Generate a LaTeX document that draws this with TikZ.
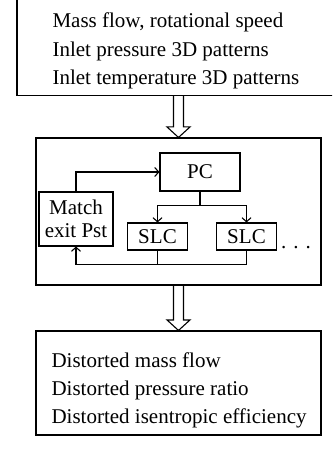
\documentclass[tikz,border=0pt]{standalone}
\usepackage{fontspec}
\setmainfont{Liberation Serif}
\usetikzlibrary{arrows.meta,calc}

\begin{document}
\begin{tikzpicture}[x=1pt,y=-1pt,>={Straight Barb[length=4pt,width=9pt]},
  line width=1.1pt,
  every node/.style={font=\fontsize{21}{28.5}\selectfont},
  frame/.style={draw,rectangle,inner sep=0pt},
  block/.style={draw,rectangle,inner sep=0pt,minimum height=27pt},
  list/.style={anchor=base west,align=left,inner sep=0pt},
  hollow/.style={line width=1.1pt,line join=miter}]

  \useasboundingbox (0,0) rectangle (332,457);
  \clip (0,0) rectangle (332,457);

  % the three stages
  \node[frame,minimum width=323pt,minimum height=130pt,anchor=south] (inbox) at (178.5,96) {};
  \node[frame,minimum width=285pt,minimum height=147pt] (proc) at (178.5,211.5) {};
  \node[frame,minimum width=285pt,minimum height=104pt] (outbox) at (178.5,383) {};

  % base of a multi-line node is its last line
  \node[list] (inlist) at (52,85)
    {Mass flow, rotational speed\\Inlet pressure 3D patterns\\Inlet temperature 3D patterns};
  \node[list,font=\fontsize{21}{28}\selectfont] (outlist) at (51,423)
    {Distorted mass flow\\Distorted pressure ratio\\Distorted isentropic efficiency};

  % inner loop
  \node[block,minimum width=80pt,minimum height=38pt] (pc) at (200,172) {PC};
  \node[block,minimum width=74pt,minimum height=54pt,align=center,
    font=\fontsize{21}{23}\selectfont] (match) at (76,219) {Match\\exit Pst};
  \node[block,minimum width=60pt] (slcA) at (157.5,236.5) {SLC};
  \node[block,minimum width=60pt] (slcB) at (246.5,236.5) {SLC};
  \node[anchor=base] (more) at (296,248) {. . .};

  \draw (pc.south) -- ++(0,14) coordinate (fork);
  \draw[->] (fork) -| (slcA.north);
  \draw[->] (fork) -| (slcB.north);

  \draw (slcA.south) -- ++(0,14);
  \draw[->] (slcB.south) -- ++(0,14) -| (match.south);
  \draw[->] (match.north) |- (pc.west);

  % block arrows between stages
  \foreach \a/\b in {inbox/proc,proc/outbox}
    \draw[hollow] ($(\a.south)+(-5,0)$) -- ($(\b.north)+(-5,-10.5)$) -- ++(-6.5,0)
      -- (\b.north) -- ++(11.5,-10.5) -- ++(-6.5,0) -- ($(\a.south)+(5,0)$);

\end{tikzpicture}
\end{document}
